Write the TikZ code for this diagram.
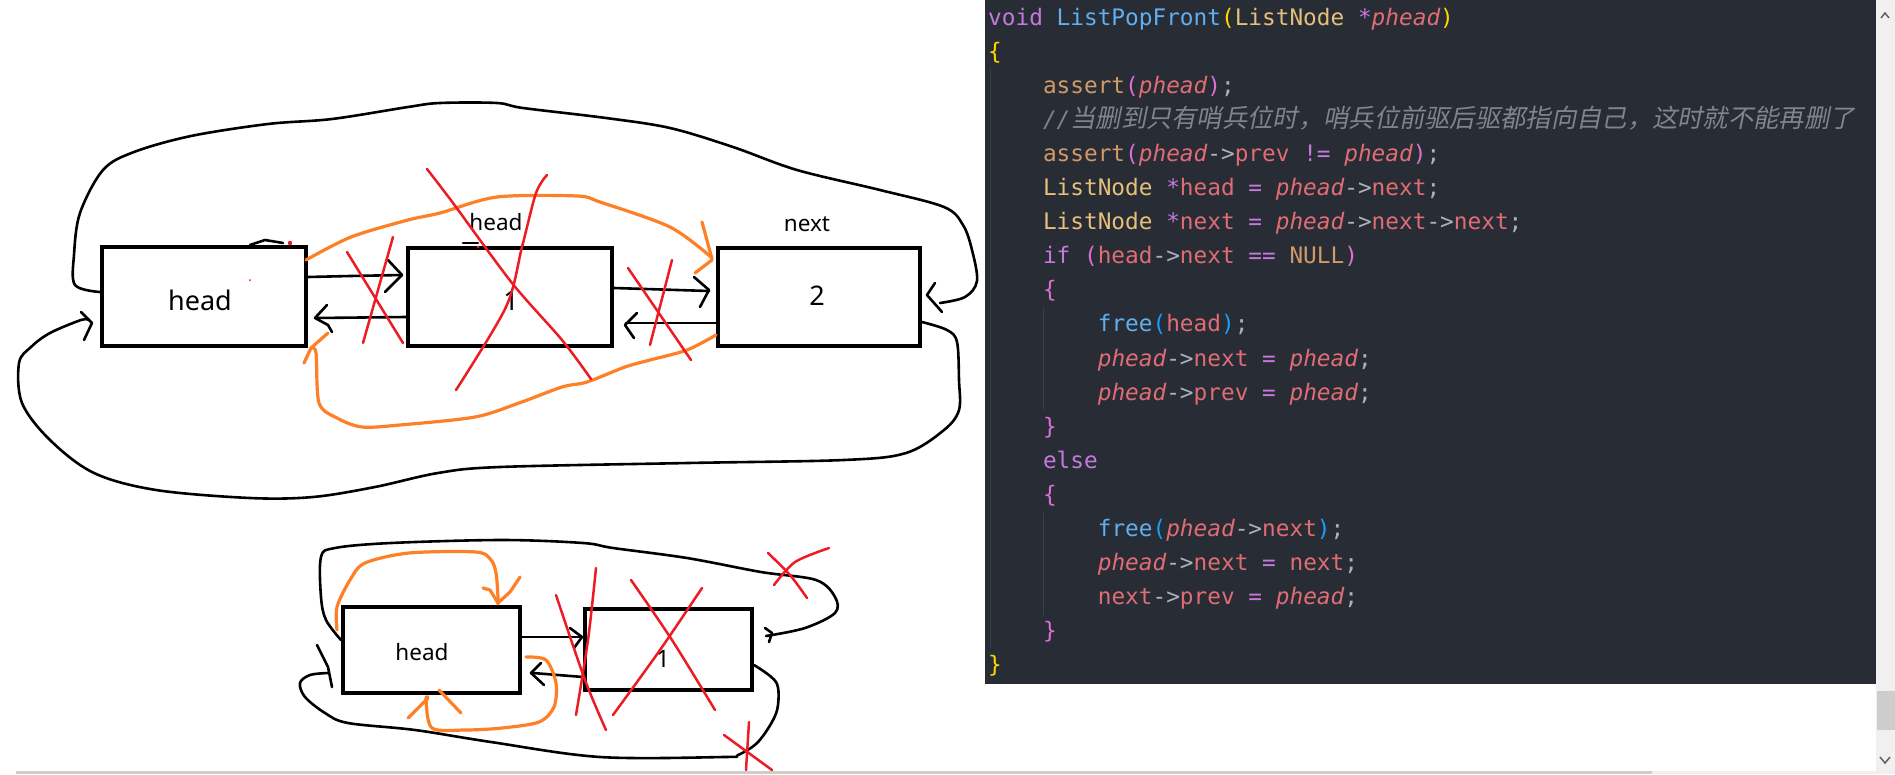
\documentclass[tikz,border=0pt]{standalone}
\usepackage{fontspec}
\setmainfont{Noto Sans}
\setmonofont{DejaVu Sans Mono}
\newfontfamily\cjkit[FakeSlant=0.2]{Noto Sans CJK SC}
\usetikzlibrary{calc}
\definecolor{codebg}{HTML}{282C34}
\definecolor{ckw}{HTML}{C678DD}
\definecolor{cfn}{HTML}{61AFEF}
\definecolor{cty}{HTML}{E5C07B}
\definecolor{cvr}{HTML}{E06C75}
\definecolor{cop}{HTML}{ABB2BF}
\definecolor{cmac}{HTML}{D19A66}
\definecolor{cnul}{HTML}{D19A66}
\definecolor{cbA}{HTML}{FFD700}
\definecolor{cbB}{HTML}{DA70D6}
\definecolor{cbC}{HTML}{179FFF}
\definecolor{ccm}{HTML}{7F848E}
\definecolor{cguide}{HTML}{3B4048}
\definecolor{pen}{HTML}{000000}
\definecolor{orng}{HTML}{FF7F27}
\definecolor{rd}{HTML}{ED1C24}
\definecolor{sbbg}{HTML}{F0F0F0}
\definecolor{sbth}{HTML}{CDCDCD}
\definecolor{sbar}{HTML}{606060}
\newcommand\ctok[2]{{\color{#1}#2}}
\newcommand\ph{\ctok{cvr}{\itshape phead}}
\tikzset{
  box/.style={draw=pen, line width=4pt, rectangle, inner sep=0pt},
  blab/.style={anchor=base, inner sep=0pt, font=\fontsize{27}{30}\selectfont},
  slab/.style={anchor=base, inner sep=0pt, font=\fontsize{22.5}{26}\selectfont},
  conn/.style={draw=pen, line width=2.6pt, line cap=round, line join=round},
  oconn/.style={draw=orng, line width=3.2pt, line cap=round, line join=round},
  rx/.style={draw=rd, line width=2.5pt, line cap=round},
  codeline/.style={anchor=base west, inner sep=0pt, font=\ttfamily\fontsize{22.75}{34}\selectfont},
}
\begin{document}
\begin{tikzpicture}[x=1pt,y=-1pt]
\useasboundingbox (0,0) rectangle (1895,774);
\fill[white] (0,0) rectangle (1895,774);
% ---------- code panel ----------
\fill[codebg] (985,0) rectangle (1876,684);
\fill[sbbg] (1876,0) rectangle (1895,774);
\fill[sbth] (1877,691) rectangle (1895,730);
\draw[sbar, line width=1.5pt] (1881,18) -- (1885,13) -- (1889,18);
\draw[sbar, line width=1.5pt] (1880,757) -- (1885,763) -- (1890,757);
\fill[sbth] (16,771) rectangle (1652,774);
\fill[sbbg] (1652,771) rectangle (1876,774);
\draw[cguide, line width=1pt] (990,68) -- (990,648);
\draw[cguide, line width=1pt] (1043,308) -- (1043,410);
\draw[cguide, line width=1pt] (1043,513) -- (1043,615);

\node[codeline] (L0) at (988,25) {\ctok{ckw}{void} \ctok{cfn}{ListPopFront}\ctok{cbA}{(}\ctok{cty}{ListNode} \ctok{ckw}{*}\ph\ctok{cbA}{)}};
\node[codeline] (L1) at (988,59.1) {\ctok{cbA}{\{}};
\node[codeline] (L2) at (1042.8,93.2) {\ctok{cmac}{assert}\ctok{cbB}{(}\ph\ctok{cbB}{)}\ctok{cop}{;}};
\node[codeline] (L3) at (1042.8,127.3) {\color{ccm}{\itshape //}{\cjkit\fontsize{25.3}{30}\selectfont 当删到只有哨兵位时，哨兵位前驱后驱都指向自己，这时就不能再删了}};
\node[codeline] (L4) at (1042.8,161.4) {\ctok{cmac}{assert}\ctok{cbB}{(}\ph\ctok{cop}{->}\ctok{cvr}{prev} \ctok{ckw}{!=} \ph\ctok{cbB}{)}\ctok{cop}{;}};
\node[codeline] (L5) at (1042.8,195.5) {\ctok{cty}{ListNode} \ctok{ckw}{*}\ctok{cvr}{head} \ctok{ckw}{=} \ph\ctok{cop}{->}\ctok{cvr}{next}\ctok{cop}{;}};
\node[codeline] (L6) at (1042.8,229.6) {\ctok{cty}{ListNode} \ctok{ckw}{*}\ctok{cvr}{next} \ctok{ckw}{=} \ph\ctok{cop}{->}\ctok{cvr}{next}\ctok{cop}{->}\ctok{cvr}{next}\ctok{cop}{;}};
\node[codeline] (L7) at (1042.8,263.7) {\ctok{ckw}{if} \ctok{cbB}{(}\ctok{cvr}{head}\ctok{cop}{->}\ctok{cvr}{next} \ctok{ckw}{==} \ctok{cnul}{NULL}\ctok{cbB}{)}};
\node[codeline] (L8) at (1042.8,297.8) {\ctok{cbB}{\{}};
\node[codeline] (L9) at (1097.6,331.9) {\ctok{cfn}{free}\ctok{cbC}{(}\ctok{cvr}{head}\ctok{cbC}{)}\ctok{cop}{;}};
\node[codeline] (L10) at (1097.6,366) {\ph\ctok{cop}{->}\ctok{cvr}{next} \ctok{ckw}{=} \ph\ctok{cop}{;}};
\node[codeline] (L11) at (1097.6,400.1) {\ph\ctok{cop}{->}\ctok{cvr}{prev} \ctok{ckw}{=} \ph\ctok{cop}{;}};
\node[codeline] (L12) at (1042.8,434.2) {\ctok{cbB}{\}}};
\node[codeline] (L13) at (1042.8,468.3) {\ctok{ckw}{else}};
\node[codeline] (L14) at (1042.8,502.4) {\ctok{cbB}{\{}};
\node[codeline] (L15) at (1097.6,536.5) {\ctok{cfn}{free}\ctok{cbC}{(}\ph\ctok{cop}{->}\ctok{cvr}{next}\ctok{cbC}{)}\ctok{cop}{;}};
\node[codeline] (L16) at (1097.6,570.6) {\ph\ctok{cop}{->}\ctok{cvr}{next} \ctok{ckw}{=} \ctok{cvr}{next}\ctok{cop}{;}};
\node[codeline] (L17) at (1097.6,604.7) {\ctok{cvr}{next}\ctok{cop}{->}\ctok{cvr}{prev} \ctok{ckw}{=} \ph\ctok{cop}{;}};
\node[codeline] (L18) at (1042.8,638.8) {\ctok{cbB}{\}}};
\node[codeline] (L19) at (988,672.9) {\ctok{cbA}{\}}};

% ---------- top diagram ----------
\node[box, minimum width=204pt, minimum height=99pt] (A) at (204,296) {};
\node[box, minimum width=204pt, minimum height=98pt] (B) at (510,297) {};
\node[box, minimum width=202pt, minimum height=98pt] (C) at (819,297) {};
\node[blab] (Alab) at (200,310) {head};
\node[blab] (Blab) at (511,310) {1};
\node[blab] (Clab) at (817,305) {2};
\node[slab] (Bhd) at (496,230) {head};
\node[slab] (Cnx) at (807,231) {next};
% small marks
\draw[conn] (250,245) -- (265,240) -- (283,243);
\fill[rd] (290,243) circle (2.2pt);
\draw[conn] (463,243) -- (478,243);
\fill[rd] (478,247) circle (1.5pt);
\fill[rd] (250,280) circle (1pt);
% straight arrows
\draw[conn] (A.east |- 0,277) -- (350,276) -- (402,275);
\draw[conn] (388,260) -- (402,275) -- (385,292);
\draw[conn] (B.west |- 0,317) -- (316,318);
\draw[conn] (327,305) -- (315,318) -- (328,325) -- (332,332);
\draw[conn] (B.east |- 0,288) -- (709,291);
\draw[conn] (694,277) -- (709,290) -- (700,307);
\draw[conn] (C.west |- 0,323) -- (626,323);
\draw[conn] (637,313) -- (625,325) -- (634,338);
% outer loops
\draw[conn] plot[smooth, tension=0.55] coordinates {(A.west |- 0,292) (75,285) (74,255) (80,213) (103,170) (134,152) (191,136) (268,124) (332,119) (408,107) (440,103) (497,103) (523,108) (606,118) (670,128) (733,147) (797,170) (880,190) (944,207) (963,225) (972,250) (977,281) (965,297) (940,303)};
\draw[conn] (935,283) -- (927,295) -- (942,312);
\draw[conn] plot[smooth, tension=0.55] coordinates {(C.east |- 0,322) (947,330) (957,342) (959,380) (959,410) (944,430) (906,453) (844,460) (688,463) (500,467) (438,473) (375,487) (313,497) (250,498) (156,490) (94,473) (50,440) (22,403) (19,363) (31,347) (50,333) (81,320) (89,320)};
\draw[conn] (81,312) -- (92,323) -- (84,340);
% orange
\draw[oconn] plot[smooth, tension=0.5] coordinates {(306,260) (351,237) (408,220) (440,213) (497,197) (577,196) (600,202) (670,227) (711,257)};
\draw[oconn] (702,222) -- (712,259);
\draw[oconn] (695,273) -- (712,260);
\draw[oconn] plot[smooth, tension=0.5] coordinates {(C.west |- 0,335) (687,350) (650,360) (625,367) (587,382) (562,387) (519,403) (475,417) (400,425) (362,427) (337,418) (319,403) (316,353) (311,348)};
\draw[oconn] (328,333) -- (311,348) -- (304,363);
% red crosses
\draw[rx] (347,252) -- (403,343);
\draw[rx] (393,237) -- (363,343);
\draw[rx] plot[smooth] coordinates {(427,169) (453,203) (512,283) (562,340) (591,379)};
\draw[rx] plot[smooth] coordinates {(547,175) (536,193) (522,247) (506,307) (456,390)};
\draw[rx] (628,268) -- (691,360);
\draw[rx] (672,260) -- (650,345);

% ---------- bottom diagram ----------
\node[box, minimum width=177pt, minimum height=86pt] (D) at (431.5,650) {};
\node[box, minimum width=167pt, minimum height=81pt] (E) at (668.5,649.5) {};
\node[slab] (Dlab) at (422,660) {head};
\node[slab, font=\fontsize{24}{26}\selectfont] (Elab) at (663,667) {1};
\draw[conn] (D.east |- 0,637) -- (580,637);
\draw[conn] (570,628) -- (582,637) -- (574,648);
\draw[conn] (E.west |- 0,677) -- (533,673);
\draw[conn] (541,663) -- (531,673) -- (544,685);
\draw[conn] plot[smooth, tension=0.55] coordinates {(D.west |- 0,640) (326,620) (321,597) (321,557) (335,548) (391,543) (502,540) (583,543) (613,548) (687,558) (761,572) (816,580) (835,597) (835,613) (805,628) (766,636)};
\draw[conn] (765,628) -- (772,633) -- (769,642);
\draw[conn] plot[smooth, tension=0.55] coordinates {(E.east |- 0,665) (776,682) (778,705) (772,722) (757,743) (738,755) (724,757) (600,757) (491,742) (415,730) (348,723) (325,713) (305,697) (300,683) (310,675) (328,673)};
\draw[conn] (317,645) -- (328,667) -- (332,687);
% orange
\draw[oconn] plot[smooth, tension=0.5] coordinates {(337,630) (337,607) (350,580) (365,563) (409,553) (476,552) (491,560) (496,573) (498,597) (498,604)};
\draw[oconn] (483,588) -- (490,590) -- (498,603) -- (510,592) -- (520,577);
\draw[oconn] plot[smooth, tension=0.5] coordinates {(526,657) (546,660) (556,683) (554,707) (539,722) (502,728) (465,730) (432,728) (426,700) (428,697)};
\draw[oconn] (408,718) -- (428,698);
\draw[oconn] (439,690) -- (461,713);
% red crosses
\draw[rx] plot[smooth] coordinates {(596,568) (588,640) (576,715)};
\draw[rx] plot[smooth] coordinates {(556,595) (585,680) (606,730)};
\draw[rx] plot[smooth] coordinates {(631,580) (672,640) (715,710)};
\draw[rx] plot[smooth] coordinates {(702,588) (660,650) (613,715)};
\draw[rx] plot[smooth] coordinates {(768,553) (790,575) (807,598)};
\draw[rx] plot[smooth] coordinates {(774,585) (795,562) (829,548)};
\draw[rx] (724,735) -- (772,770);
\draw[rx] (749,722) -- (746,770);
\end{tikzpicture}
\end{document}
